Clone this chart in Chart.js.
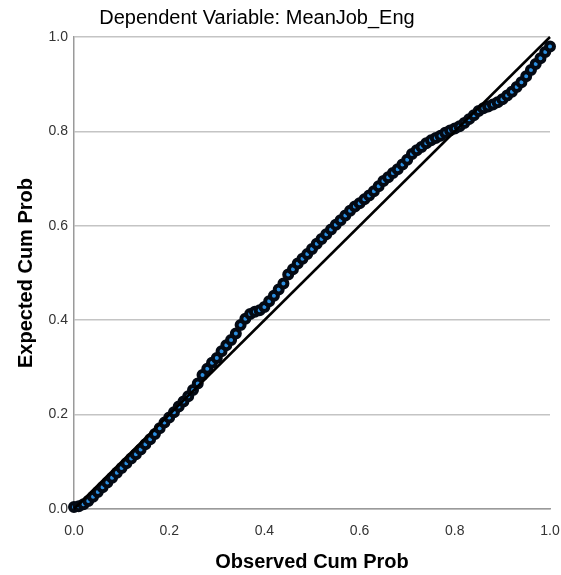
<!DOCTYPE html>
<html>
<head>
<meta charset="utf-8">
<script src="https://cdn.jsdelivr.net/npm/chart.js@4.4.1/dist/chart.umd.min.js"></script>
<style>
  html, body { margin: 0; padding: 0; background: #fff; }
  canvas { display: block; }
</style>
</head>
<body>
<canvas id="ppPlot" width="561" height="575"></canvas>
<script>
// Observed vs expected cumulative probability (normal P-P plot of residuals)
const observedCum = [
  0.00, 0.01, 0.02, 0.03, 0.04, 0.05, 0.06, 0.07, 0.08, 0.09,
  0.10, 0.11, 0.12, 0.13, 0.14, 0.15, 0.16, 0.17, 0.18, 0.19,
  0.20, 0.21, 0.22, 0.23, 0.24, 0.25, 0.26, 0.27, 0.28, 0.29,
  0.30, 0.31, 0.32, 0.33, 0.34, 0.35, 0.36, 0.37, 0.38, 0.39,
  0.40, 0.41, 0.42, 0.43, 0.44, 0.45, 0.46, 0.47, 0.48, 0.49,
  0.50, 0.51, 0.52, 0.53, 0.54, 0.55, 0.56, 0.57, 0.58, 0.59,
  0.60, 0.61, 0.62, 0.63, 0.64, 0.65, 0.66, 0.67, 0.68, 0.69,
  0.70, 0.71, 0.72, 0.73, 0.74, 0.75, 0.76, 0.77, 0.78, 0.79,
  0.80, 0.81, 0.82, 0.83, 0.84, 0.85, 0.86, 0.87, 0.88, 0.89,
  0.90, 0.91, 0.92, 0.93, 0.94, 0.95, 0.96, 0.97, 0.98, 0.99,
  1.00
];
const expectedCum = [
  0.004, 0.006, 0.010, 0.017, 0.026, 0.036, 0.046, 0.056, 0.066, 0.077,
  0.087, 0.097, 0.107, 0.116, 0.126, 0.137, 0.148, 0.159, 0.171, 0.183,
  0.194, 0.205, 0.217, 0.228, 0.239, 0.252, 0.266, 0.284, 0.297, 0.310,
  0.320, 0.334, 0.347, 0.358, 0.372, 0.390, 0.403, 0.413, 0.418, 0.421,
  0.428, 0.440, 0.452, 0.465, 0.478, 0.497, 0.508, 0.520, 0.530, 0.540,
  0.551, 0.562, 0.572, 0.582, 0.592, 0.602, 0.612, 0.622, 0.632, 0.641,
  0.648, 0.656, 0.664, 0.673, 0.684, 0.695, 0.703, 0.712, 0.720, 0.730,
  0.740, 0.752, 0.760, 0.767, 0.775, 0.781, 0.786, 0.791, 0.797, 0.802,
  0.806, 0.811, 0.818, 0.826, 0.834, 0.843, 0.849, 0.853, 0.857, 0.862,
  0.868, 0.876, 0.884, 0.894, 0.904, 0.917, 0.930, 0.943, 0.955, 0.968,
  0.980
];
// reference line ends
const diagonalX = [0, 1];
const diagonalY = [0, 1];

const chartTitle = 'Dependent Variable: MeanJob_Eng';
const xAxisTitle = 'Observed Cum Prob';
const yAxisTitle = 'Expected Cum Prob';

// Draws the heading at the spot SPSS puts it (not centred on the canvas)
const headingPlugin = {
  id: 'heading',
  afterDraw(chart) {
    const ctx = chart.ctx;
    ctx.save();
    ctx.font = '20px "Liberation Sans", Arial, sans-serif';
    ctx.fillStyle = '#000';
    ctx.textAlign = 'center';
    ctx.textBaseline = 'middle';
    ctx.fillText(chartTitle, 257, 18);
    ctx.restore();
  }
};

const tickFont = { family: '"Liberation Sans", Arial, sans-serif', size: 14 };
const axisTitleFont = { family: '"Liberation Sans", Arial, sans-serif', size: 20, weight: 'bold' };

const ctx = document.getElementById('ppPlot').getContext('2d');
new Chart(ctx, {
  type: 'scatter',
  data: {
    datasets: [
      {
        // diagonal goes first so it sits on top of the markers
        type: 'line',
        data: diagonalX.map((x, i) => ({ x: x, y: diagonalY[i] })),
        borderColor: '#000',
        borderWidth: 2.5,
        pointRadius: 0,
        fill: false,
        clip: false
      },
      {
        data: observedCum.map((x, i) => ({ x: x, y: expectedCum[i] })),
        backgroundColor: '#2b8ee0',
        borderColor: '#040a14',
        borderWidth: 4,
        pointRadius: 4,
        clip: false
      }
    ]
  },
  options: {
    responsive: false,
    animation: false,
    layout: {
      autoPadding: false,
      padding: { left: 10, top: 37, right: 11, bottom: 0 }
    },
    plugins: {
      legend: { display: false },
      tooltip: { enabled: false }
    },
    scales: {
      x: {
        type: 'linear',
        min: 0,
        max: 1,
        afterFit: scale => {
          scale.height = 66;
          scale.paddingRight = 0;
        },
        grid: { display: false },
        border: { display: true, color: '#9a9a9a', width: 1.5 },
        ticks: {
          stepSize: 0.2,
          maxRotation: 0,
          padding: 6,
          color: '#333',
          font: tickFont,
          callback: v => v.toFixed(1)
        },
        title: {
          display: true,
          text: xAxisTitle,
          color: '#000',
          font: axisTitleFont,
          padding: { top: 0, bottom: 1 }
        }
      },
      y: {
        type: 'linear',
        min: 0,
        max: 1,
        afterFit: scale => { scale.width = 64; },
        grid: { color: '#c4c4c4', lineWidth: 1.5, drawTicks: false },
        border: { display: true, color: '#9a9a9a', width: 1.5 },
        ticks: {
          stepSize: 0.2,
          padding: 6,
          color: '#333',
          font: tickFont,
          callback: v => v.toFixed(1)
        },
        title: {
          display: true,
          text: yAxisTitle,
          color: '#000',
          font: axisTitleFont,
          padding: { top: 4, bottom: 0 }
        }
      }
    }
  },
  plugins: [headingPlugin]
});
</script>
</body>
</html>
